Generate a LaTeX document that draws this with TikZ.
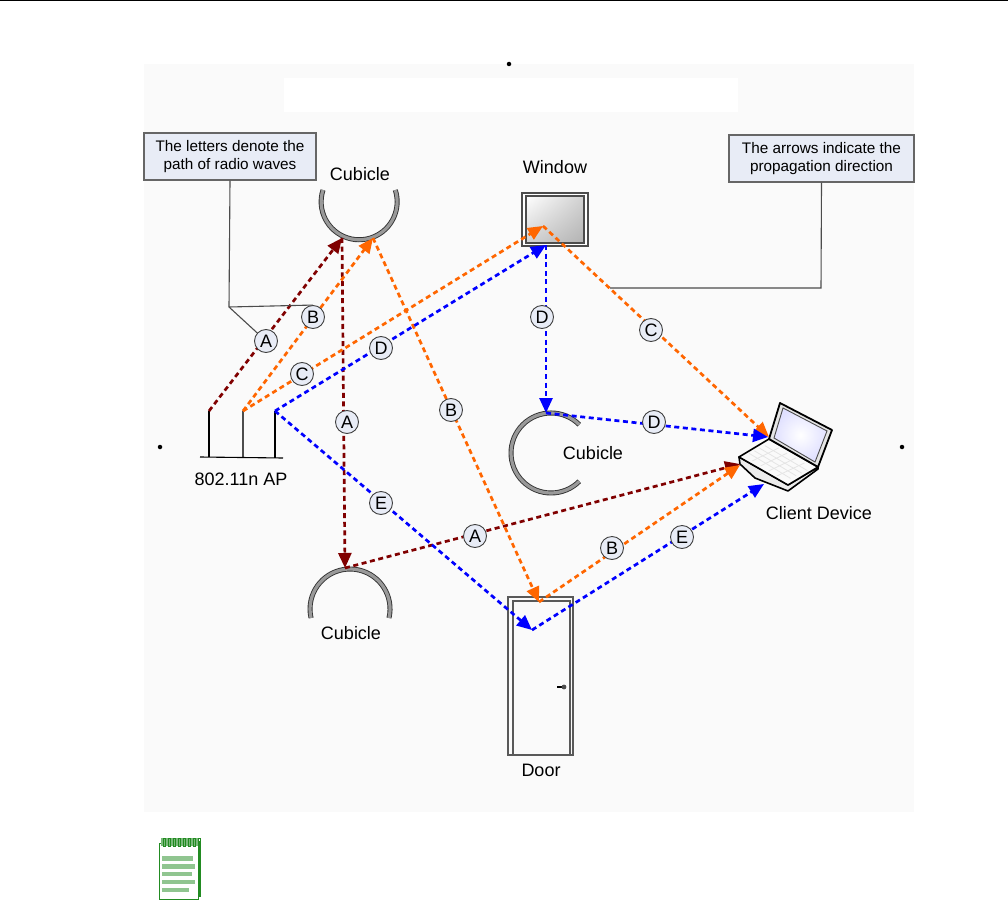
\documentclass[tikz,border=0pt]{standalone}
\usepackage{fontspec}
\setmainfont{Liberation Sans}
\usetikzlibrary{arrows.meta,positioning,shadings}
\definecolor{rayred}{HTML}{800000}
\definecolor{rayorange}{HTML}{FF6600}
\definecolor{rayblue}{HTML}{0000FF}
\definecolor{notefill}{HTML}{E8ECF6}
\definecolor{padgreen}{HTML}{228B22}
\begin{document}
\begin{tikzpicture}[x=1pt,y=-1pt,
  ray/.style={line width=2.7pt,dash pattern=on 5pt off 3.6pt,
    -{Triangle[length=15pt,width=13pt]}},
  bubble/.style={circle,draw=black!75,fill=notefill,line width=0.9pt,
    minimum size=23pt,inner sep=0pt,font=\fontsize{18}{20}\selectfont},
  note/.style={draw=black!60,fill=notefill,line width=1.4pt,align=center,
    minimum width=172pt,minimum height=47pt,inner sep=0pt,
    font=\fontsize{15.3}{18}\selectfont},
  leader/.style={draw=black!70,line width=1.1pt},
  tag/.style={font=\fontsize{18}{20}\selectfont,inner sep=0pt},
  wall/.style={draw=black!80,double=black!40,line width=0.9pt,
    double distance=3.2pt},
  dotmark/.style={circle,fill=black,minimum size=4.5pt,inner sep=0pt},
  padbar/.style={fill=padgreen!50,draw=none}
]
\useasboundingbox (0,0) rectangle (1008,901);
\draw[line width=1pt] (0,0.5)--(1008,0.5);
\fill[black!2] (144,64) rectangle (914,812);
\fill[white] (284,78) rectangle (738,112);
\node[dotmark] (markTop) at (509,64) {};
\node[dotmark] (markLeft) at (160,447) {};
\node[dotmark] (markRight) at (902,447) {};

% cubicles
\draw[wall] (323,190) arc[start angle=162,end angle=378,radius=38pt];
\draw[wall] (579.3,424.7) arc[start angle=45,end angle=315,radius=40pt];
\draw[wall] (389,618) arc[start angle=-13,end angle=193,radius=40pt];
\node[tag] (cubicleTop) at (360,174) {Cubicle};
\node[tag] (cubicleMid) at (593,453) {Cubicle};
\node[tag] (cubicleLow) at (351,633) {Cubicle};

% access point
\draw[line width=1.8pt] (209,411)--(209,457);
\draw[line width=1.4pt,black!70] (243,411)--(243,457);
\draw[line width=1.8pt] (275,411)--(275,458);
\draw[line width=1.1pt] (200,457)--(283,458);
\node[tag] (apName) at (241,479) {802.11n AP};

% window
\draw[black!70,line width=1.1pt,fill=white] (522,193) rectangle (588,246);
\shadedraw[draw=black!70,line width=1.2pt,upper left=white,lower right=black!30,
  upper right=black!18,lower left=black!18] (526,196) rectangle (584,243);
\node[tag] (windowName) at (555,167) {Window};

% door
\draw[black!65,line width=1.3pt] (508,597) rectangle (573,755);
\draw[black!65,line width=1.3pt] (513,601) rectangle (570,755);
\draw[line width=1.3pt] (557,687)--(563,687);
\fill[black!70] (564,687) circle (2.4pt);
\node[tag] (doorName) at (541,770) {Door};

% laptop
\draw[line width=1.6pt,fill=black!8,line join=round] (739,457)--(740,464)--(755,478)
  --(788,491)--(818,469)--(818,467)--(788,485)--cycle;
\draw[line width=1.6pt,fill=black!2,line join=round] (739,457)--(769,439)--(818,467)
  --(788,485)--cycle;
\foreach \k in {0.2,0.4,0.6,0.8} {
  \pgfmathsetmacro{\ax}{744+26*\k}\pgfmathsetmacro{\ay}{456-13*\k}
  \pgfmathsetmacro{\bx}{785+28*\k}\pgfmathsetmacro{\by}{481-13*\k}
  \draw[black!10,line width=0.8pt] (\ax,\ay)--(\bx,\by);
  \pgfmathsetmacro{\cx}{744+41*\k}\pgfmathsetmacro{\cy}{456+25*\k}
  \pgfmathsetmacro{\dx}{770+43*\k}\pgfmathsetmacro{\dy}{443+25*\k}
  \draw[black!10,line width=0.8pt] (\cx,\cy)--(\dx,\dy);
}
\draw[line width=1.8pt,fill=black!10,line join=round] (780,403)--(832,430)--(818,467)--(769,439)--cycle;
\shadedraw[inner color=white,outer color=blue!12,draw=black!70,line width=0.9pt]
  (783,408)--(827,431)--(815,462)--(774,438)--cycle;
\node[tag] (clientName) at (819,513) {Client Device};

% callouts
\node[note] (noteLetters) at (230,156.5) {The letters denote the\\path of radio waves};
\node[note,minimum width=185pt] (noteArrows) at (821.5,158.5)
  {The arrows indicate the\\propagation direction};

% hit points
\coordinate (apRed) at (209,411);
\coordinate (apOrange) at (243,411);
\coordinate (apBlue) at (275,411);
\coordinate (hitTopA) at (342,238);
\coordinate (hitTopB) at (373,238);
\coordinate (hitLowA) at (345,568);
\coordinate (hitWinC) at (543,226);
\coordinate (hitWinD) at (546,245);
\coordinate (hitMidD) at (546,413);
\coordinate (hitDoorB) at (539,602);
\coordinate (hitDoorE) at (532,630);
\coordinate (hitLapA) at (740,464);
\coordinate (hitLapB) at (740,465);
\coordinate (hitLapC) at (769,437);
\coordinate (hitLapD) at (768,437);
\coordinate (hitLapE) at (764,484);

\draw[ray,rayred] (apRed)--(hitTopA);
\draw[ray,rayred] (hitTopA)--(hitLowA);
\draw[ray,rayred] (hitLowA)--(hitLapA);
\draw[ray,rayorange] (apOrange)--(hitTopB);
\draw[ray,rayorange] (hitTopB)--(hitDoorB);
\draw[ray,rayorange] (hitDoorB)--(hitLapB);
\draw[ray,rayorange] (apOrange)--(hitWinC);
\draw[ray,rayorange] (hitWinC)--(hitLapC);
\draw[ray,rayblue] (apBlue)--(hitWinD);
\draw[ray,rayblue] (hitWinD)--(hitMidD);
\draw[ray,rayblue] (hitMidD)--(hitLapD);
\draw[ray,rayblue] (apBlue)--(hitDoorE);
\draw[ray,rayblue] (hitDoorE)--(hitLapE);

% letters
\node[bubble] (bubAone) at (266,341) {A};
\node[bubble] (bubBone) at (313,317) {B};
\node[bubble] (bubCone) at (302,374) {C};
\node[bubble] (bubDone) at (381,348) {D};
\node[bubble] (bubAtwo) at (347,422) {A};
\node[bubble] (bubBtwo) at (451,410) {B};
\node[bubble] (bubDtwo) at (542,317) {D};
\node[bubble] (bubCtwo) at (651,330) {C};
\node[bubble] (bubDthree) at (654,422) {D};
\node[bubble] (bubEone) at (381,503) {E};
\node[bubble] (bubAthree) at (475,536) {A};
\node[bubble] (bubBthree) at (612,548) {B};
\node[bubble] (bubEtwo) at (682,537) {E};

% leaders
\coordinate (elbowLetters) at (229,307);
\coordinate (elbowArrows) at (821,288);
\coordinate (hitLeader) at (610,288);
\draw[leader] (noteLetters.south)--(elbowLetters)--(bubAone);
\draw[leader] (elbowLetters)--(bubBone.north);
\draw[leader] (noteArrows.south)--(elbowArrows)--(hitLeader);

% notepad
\fill[padgreen] (198,841) rectangle (201,897);
\draw[padgreen,fill=white,line width=1pt] (159.5,843) rectangle (198,899);
\fill[padgreen!60] (161,838) rectangle (198,846);
\foreach \x in {163,168,...,198} {
  \draw[padgreen,line width=1pt] (\x,838) rectangle (\x+2,846);
}
\fill[padbar] (162,856) rectangle (193,861);
\fill[padbar] (162,864) rectangle (195,869);
\fill[padbar] (162,872) rectangle (192,876);
\fill[padbar] (162,880) rectangle (195,884);
\fill[padbar] (162,888) rectangle (189,892);
\end{tikzpicture}
\end{document}
